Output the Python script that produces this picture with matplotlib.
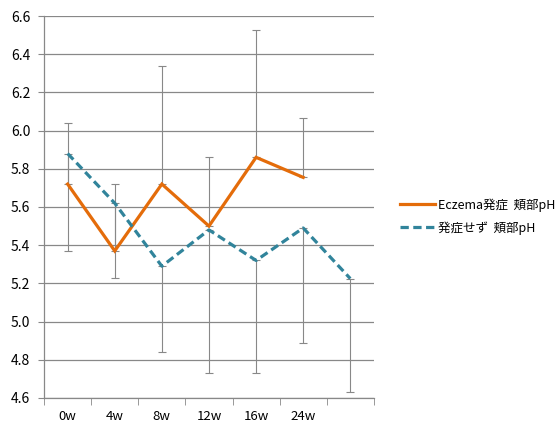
import numpy as np
import matplotlib.pyplot as plt
plt.switch_backend('agg')

plt.rcParams['font.family'] = ['Noto Sans CJK JP', 'DejaVu Sans']

weeks = ['0w', '4w', '8w', '12w', '16w', '24w', '']

# Eczema発症 group (cheek pH), upper error bars only
eczema_mean = [5.72, 5.37, 5.72, 5.50, 5.86, 5.755]
eczema_err_up = [0.32, 0.35, 0.62, 0.36, 0.665, 0.31]

# 発症せず group (cheek pH), lower error bars only
no_eczema_mean = [5.88, 5.62, 5.29, 5.48, 5.32, 5.49, 5.225]
no_eczema_err_down = [0.51, 0.39, 0.45, 0.75, 0.59, 0.60, 0.595]

ORANGE = '#E46C0A'
TEAL = '#31849B'
GREY = '#888888'

fig = plt.figure(figsize=(5.58, 4.22), dpi=100)
ax = fig.add_axes([0.079, 0.057, 0.591, 0.905])

x_all = np.arange(len(weeks))
x_ecz = np.arange(len(eczema_mean))

ax.errorbar(x_ecz, eczema_mean, yerr=[np.zeros(len(eczema_err_up)), eczema_err_up],
            fmt='none', ecolor=GREY, elinewidth=0.8, capsize=3, capthick=0.8, zorder=2)
ax.errorbar(x_all, no_eczema_mean, yerr=[no_eczema_err_down, np.zeros(len(no_eczema_err_down))],
            fmt='none', ecolor=GREY, elinewidth=0.8, capsize=3, capthick=0.8, zorder=2)

ax.plot(x_ecz, eczema_mean, color=ORANGE, lw=2.3, solid_joinstyle='miter',
        label='Eczema発症  頬部pH', zorder=3)
ax.plot(x_all, no_eczema_mean, color=TEAL, lw=2.3, dashes=(2.6, 1.4),
        label='発症せず  頬部pH', zorder=3)

ax.set_xlim(-0.5, len(weeks) - 0.5)
ax.set_ylim(4.6, 6.6)
ax.set_yticks(np.arange(4.6, 6.61, 0.2))
ax.set_yticklabels([f'{v:.1f}' for v in np.arange(4.6, 6.61, 0.2)], fontsize=10)
ax.set_xticks(x_all)
ax.set_xticklabels(weeks, fontsize=9.5)
ax.set_xticks(np.arange(-0.5, len(weeks), 1.0), minor=True)
ax.tick_params(axis='x', which='major', length=0, pad=9)
ax.tick_params(axis='x', which='minor', length=5, color=GREY, direction='out')
ax.tick_params(axis='y', length=4, color=GREY, pad=6)

ax.grid(axis='y', color=GREY, lw=0.9, zorder=0)
for side in ['top', 'right']:
    ax.spines[side].set_visible(False)
for side in ['left', 'bottom']:
    ax.spines[side].set_color(GREY)
    ax.spines[side].set_linewidth(0.9)

leg = fig.legend(loc='center left', bbox_to_anchor=(0.697, 0.487), frameon=False,
                 fontsize=9, handlelength=2.8, handletextpad=0.25, labelspacing=0.75)

fig.savefig('out.png', dpi=100)
